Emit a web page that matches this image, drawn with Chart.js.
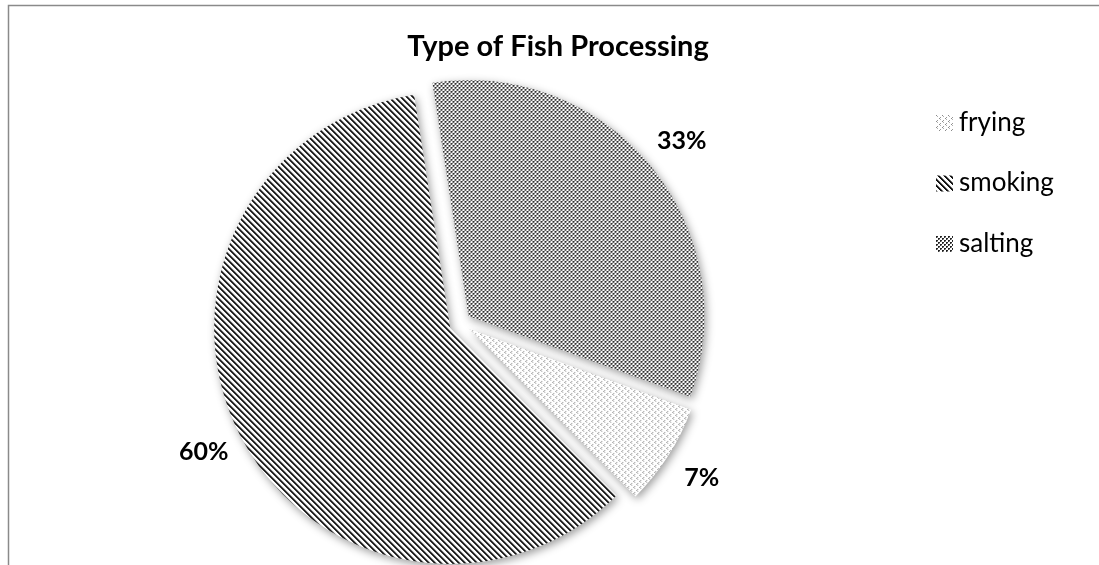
<!DOCTYPE html>
<html>
<head>
<meta charset="utf-8">
<script src="https://cdn.jsdelivr.net/npm/chart.js@4/dist/chart.umd.min.js"></script>
<style>
  html, body { margin: 0; padding: 0; background: #fff; }
  #wrap { position: relative; width: 1099px; height: 565px; }
</style>
</head>
<body>
<div id="wrap"><canvas id="c" width="1099" height="565"></canvas></div>
<script>
// ---- data ----
const chartTitle = 'Type of Fish Processing';
const categories = ['frying', 'smoking', 'salting'];
const values = [7, 60, 33];

// ---- styling constants ----
const FONT = 'Lato, "Open Sans", sans-serif';
const EXPLODE = 11;

const canvas = document.getElementById('c');
const mainCtx = canvas.getContext('2d');

function makePattern(size, painter) {
  const c = document.createElement('canvas');
  c.width = size; c.height = size;
  const g = c.getContext('2d');
  g.fillStyle = '#ffffff';
  g.fillRect(0, 0, size, size);
  painter(g, size);
  return mainCtx.createPattern(c, 'repeat');
}
function px(g, x, y, col) { g.fillStyle = col; g.fillRect(x, y, 1, 1); }

// frying: light sparse dots
const fryingPat = makePattern(6, (g) => {
  px(g, 1, 0, '#9a9a9a'); px(g, 0, 1, '#8a8a8a'); px(g, 1, 2, '#b0b0b0');
  px(g, 4, 3, '#9a9a9a'); px(g, 3, 4, '#8a8a8a'); px(g, 4, 5, '#b0b0b0');
});
// smoking: dark downward diagonal stripes
const smokingPat = makePattern(6, (g, s) => {
  for (let x = 0; x < s; x++) for (let y = 0; y < s; y++) {
    const k = (((x - y) % s) + s) % s;
    if (k === 0 || k === 1) px(g, x, y, '#141414');
    else if (k === 2) px(g, x, y, '#808080');
  }
});
// salting: dense dark dots
const saltingPat = makePattern(4, (g) => {
  px(g, 0, 0, '#1e1e1e'); px(g, 1, 0, '#2a2a2a'); px(g, 0, 1, '#3a3a3a');
  px(g, 2, 2, '#1e1e1e'); px(g, 3, 2, '#2a2a2a'); px(g, 2, 3, '#3a3a3a');
  px(g, 1, 1, '#9a9a9a'); px(g, 3, 3, '#9a9a9a');
});
const fills = [fryingPat, smokingPat, saltingPat];

const decorPlugin = {
  id: 'decor',
  beforeDraw(chart) {
    const ctx = chart.ctx;
    ctx.save();
    ctx.strokeStyle = '#8a8a8a';
    ctx.lineWidth = 1.5;
    ctx.beginPath();
    ctx.moveTo(8.5, 565);
    ctx.lineTo(8.5, 5.5);
    ctx.lineTo(1099, 5.5);
    ctx.stroke();
    ctx.restore();
  },
  beforeDatasetsDraw(chart) {
    const ctx = chart.ctx;
    const meta = chart.getDatasetMeta(0);
    ctx.save();
    ctx.shadowColor = 'rgba(0,0,0,0.38)';
    ctx.shadowBlur = 8;
    ctx.shadowOffsetX = 2;
    ctx.shadowOffsetY = 3;
    meta.data.forEach((arc) => {
      const mid = (arc.startAngle + arc.endAngle) / 2;
      ctx.save();
      ctx.translate(Math.cos(mid) * EXPLODE, Math.sin(mid) * EXPLODE);
      arc.draw(ctx, chart.chartArea);
      ctx.restore();
    });
    ctx.restore();
    return false;
  },
  afterDraw(chart) {
    const ctx = chart.ctx;
    const meta = chart.getDatasetMeta(0);
    const total = values.reduce((a, b) => a + b, 0);
    ctx.save();
    // title
    ctx.fillStyle = '#000';
    ctx.font = 'bold 29px ' + FONT;
    ctx.textAlign = 'center';
    ctx.textBaseline = 'alphabetic';
    ctx.fillText(chartTitle, 558, 55.5);
    // percentage labels
    ctx.font = 'bold 25px ' + FONT;
    ctx.textBaseline = 'middle';
    meta.data.forEach((arc, i) => {
      const mid = (arc.startAngle + arc.endAngle) / 2;
      const d = arc.outerRadius + 51;
      const txt = Math.round(values[i] / total * 100) + '%';
      ctx.fillText(txt, arc.x + Math.cos(mid) * d, arc.y + Math.sin(mid) * d);
    });
    // legend
    ctx.textAlign = 'left';
    ctx.textBaseline = 'alphabetic';
    ctx.font = '26px ' + FONT;
    categories.forEach((cat, i) => {
      const base = 130.5 + i * 60.5;
      ctx.fillStyle = fills[i];
      ctx.fillRect(936, base - 15.5, 17, 16);
      ctx.fillStyle = '#000';
      ctx.fillText(cat, 959, base);
    });
    ctx.restore();
  }
};

new Chart(canvas, {
  type: 'pie',
  data: {
    labels: categories,
    datasets: [{
      data: values,
      backgroundColor: fills,
      borderWidth: 0,
      clip: false
    }]
  },
  options: {
    responsive: false,
    animation: false,
    rotation: 110,
    radius: 236,
    layout: { padding: { left: 0, right: 179, top: 81, bottom: 0 } },
    plugins: {
      legend: { display: false },
      title: { display: false },
      tooltip: { enabled: false }
    }
  },
  plugins: [decorPlugin]
});
</script>
</body>
</html>
